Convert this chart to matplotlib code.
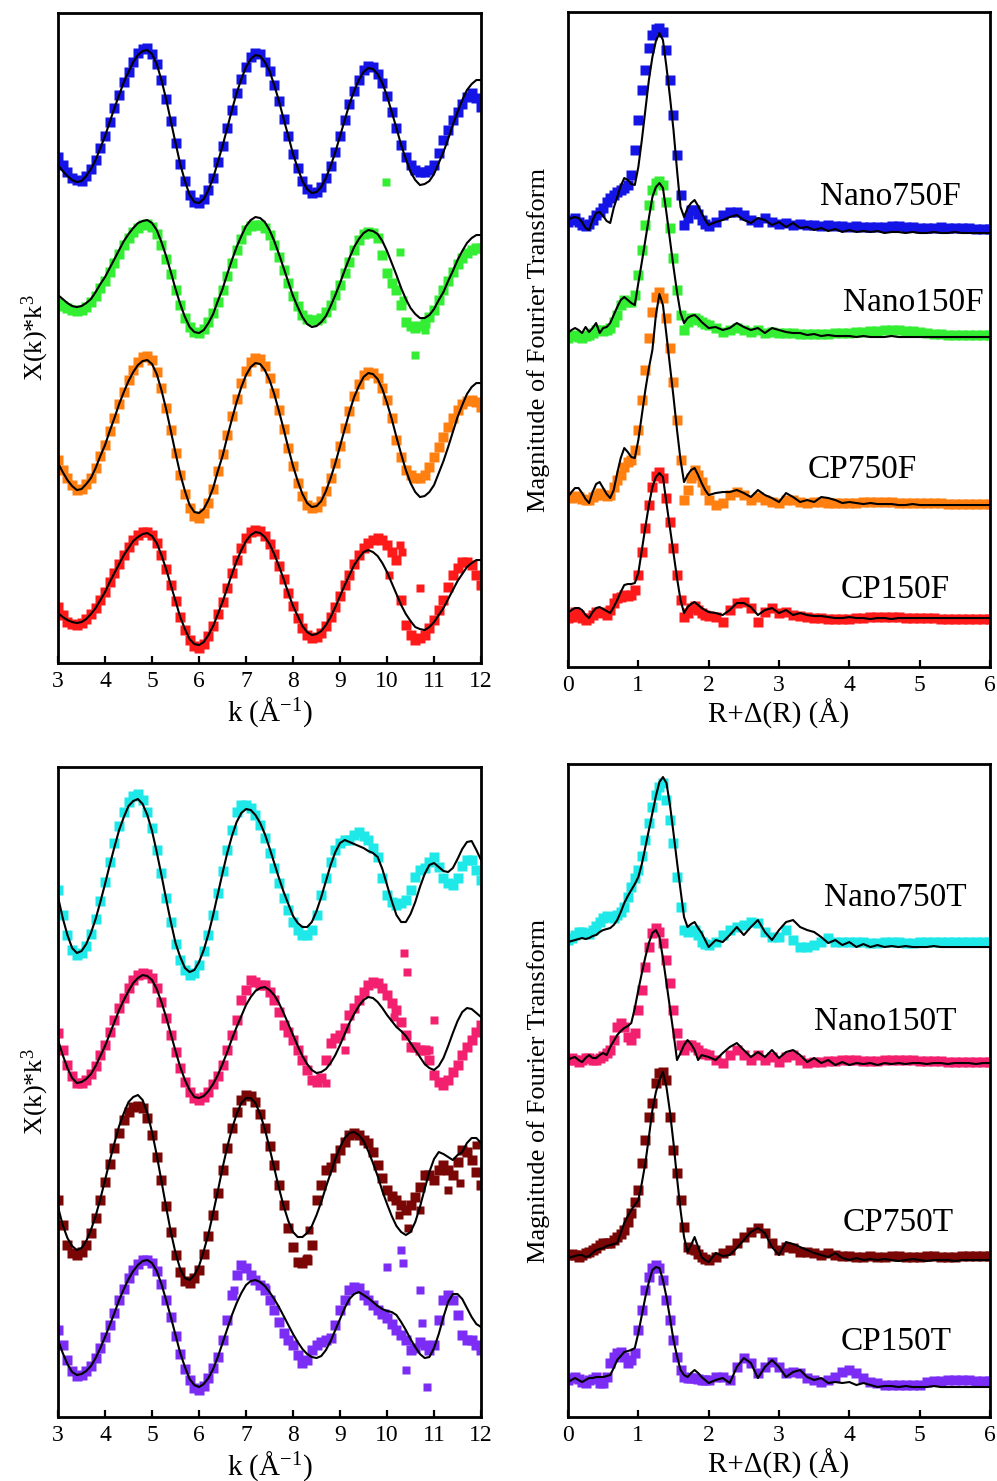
import numpy as np
import matplotlib.pyplot as plt

plt.rcParams['font.family'] = ['Liberation Serif', 'DejaVu Serif']
plt.rcParams['mathtext.fontset'] = 'custom'
plt.rcParams['mathtext.rm'] = 'Liberation Serif'
plt.rcParams['mathtext.it'] = 'Liberation Serif:italic'

# k grid (1/A) and R grid (A) the traces are read on
k_grid = [3.0, 3.1, 3.2, 3.3, 3.4, 3.5, 3.6, 3.7, 3.8, 3.9,
          4.0, 4.1, 4.2, 4.3, 4.4, 4.5, 4.6, 4.7, 4.8, 4.9,
          5.0, 5.1, 5.2, 5.3, 5.4, 5.5, 5.6, 5.7, 5.8, 5.9,
          6.0, 6.1, 6.2, 6.3, 6.4, 6.5, 6.6, 6.7, 6.8, 6.9,
          7.0, 7.1, 7.2, 7.3, 7.4, 7.5, 7.6, 7.7, 7.8, 7.9,
          8.0, 8.1, 8.2, 8.3, 8.4, 8.5, 8.6, 8.7, 8.8, 8.9,
          9.0, 9.1, 9.2, 9.3, 9.4, 9.5, 9.6, 9.7, 9.8, 9.9,
          10.0, 10.1, 10.2, 10.3, 10.4, 10.5, 10.6, 10.7, 10.8, 10.9,
          11.0, 11.1, 11.2, 11.3, 11.4, 11.5, 11.6, 11.7, 11.8, 11.9,
          12.0]
r_grid = [0.00, 0.05, 0.10, 0.15, 0.20, 0.25, 0.30, 0.35, 0.40, 0.45,
          0.50, 0.55, 0.60, 0.65, 0.70, 0.75, 0.80, 0.85, 0.90, 0.95,
          1.00, 1.05, 1.10, 1.15, 1.20, 1.25, 1.30, 1.35, 1.40, 1.45,
          1.50, 1.55, 1.60, 1.65, 1.70, 1.75, 1.80, 1.85, 1.90, 1.95,
          2.0, 2.1, 2.2, 2.3, 2.4, 2.5, 2.6, 2.7, 2.8, 2.9,
          3.0, 3.1, 3.2, 3.3, 3.4, 3.5, 3.6, 3.7, 3.8, 3.9,
          4.0, 4.1, 4.2, 4.3, 4.4, 4.5, 4.6, 4.7, 4.8, 4.9,
          5.0, 5.1, 5.2, 5.3, 5.4, 5.5, 5.6, 5.7, 5.8, 5.9, 6.0]

# ---- chi(k)*k^3, F samples (offset, arbitrary units) ----
nano750f_chi = [843, 835, 828, 822, 820, 819, 824, 831, 840, 852,
                864, 878, 892, 905, 918, 928, 938, 947, 951, 952,
                946, 936, 920, 901, 879, 857, 836, 819, 805, 798,
                797, 801, 810, 822, 838, 854, 872, 890, 907, 921,
                933, 943, 947, 946, 938, 929, 915, 899, 881, 864,
                846, 832, 819, 811, 807, 808, 813, 822, 834, 848,
                864, 880, 896, 909, 920, 930, 934, 933, 926, 917,
                904, 888, 872, 855, 843, 835, 830, 828, 828, 830,
                835, 847, 860, 870, 880, 888, 896, 903, 907, 902,
                893]
nano750f_chi_fit = [835, 829, 824, 820, 818, 819, 824, 831, 840, 852,
                    864, 878, 892, 905, 918, 928, 938, 945, 949, 950,
                    946, 936, 920, 901, 879, 857, 836, 819, 805, 798,
                    797, 801, 810, 822, 838, 854, 872, 890, 907, 921,
                    933, 941, 945, 944, 938, 929, 915, 899, 881, 864,
                    846, 832, 819, 811, 807, 808, 813, 822, 834, 848,
                    864, 880, 896, 909, 920, 928, 932, 931, 926, 917,
                    904, 888, 872, 855, 841, 828, 820, 815, 816, 819,
                    826, 837, 848, 861, 875, 888, 900, 910, 916, 920,
                    920]
nano150f_chi = [697, 694, 692, 690, 689, 690, 693, 698, 704, 712,
                719, 728, 737, 746, 755, 762, 768, 772, 775, 776,
                773, 766, 755, 741, 726, 710, 695, 682, 673, 668,
                667, 671, 678, 687, 698, 710, 724, 737, 750, 761,
                770, 774, 775, 775, 772, 765, 755, 743, 730, 717,
                704, 694, 685, 681, 680, 680, 682, 688, 695, 705,
                715, 727, 738, 750, 760, 766, 768, 767, 762, 745,
                727, 717, 710, 695, 678, 674, 672, 674, 677, 683,
                690, 700, 710, 719, 728, 736, 742, 747, 750, 752,
                752]
nano150f_chi_fit = [705, 701, 697, 694, 693, 694, 697, 701, 708, 716,
                    723, 732, 741, 750, 759, 766, 772, 777, 779, 780,
                    777, 770, 758, 744, 728, 711, 696, 683, 673, 668,
                    667, 670, 677, 686, 699, 711, 726, 740, 753, 764,
                    774, 780, 783, 782, 778, 770, 759, 746, 732, 718,
                    704, 693, 683, 676, 673, 674, 678, 684, 694, 705,
                    717, 730, 742, 753, 761, 767, 770, 769, 766, 759,
                    749, 737, 725, 712, 701, 692, 686, 682, 682, 685,
                    691, 700, 708, 719, 729, 740, 749, 757, 762, 765,
                    765]
nano150f_extra_k = [9.97, 10.27, 10.6, 10.1, 10.35, 10.8]
nano150f_extra = [818, 748, 645, 717, 700, 670]
cp750f_chi = [540, 530, 522, 515, 510, 511, 516, 522, 532, 544,
              555, 569, 582, 596, 608, 620, 630, 638, 643, 644,
              640, 628, 612, 592, 570, 547, 525, 506, 492, 484,
              482, 487, 497, 511, 529, 546, 565, 584, 601, 617,
              629, 638, 642, 641, 634, 622, 607, 590, 571, 552,
              534, 517, 504, 495, 492, 493, 499, 509, 522, 537,
              554, 572, 589, 604, 616, 625, 628, 627, 622, 612,
              600, 582, 560, 543, 530, 525, 522, 522, 525, 533,
              543, 553, 563, 573, 582, 590, 596, 599, 600, 598,
              593]
cp750f_chi_fit = [537, 528, 520, 514, 510, 511, 516, 522, 532, 544,
                  555, 569, 582, 596, 608, 619, 628, 635, 639, 640,
                  636, 626, 610, 591, 569, 547, 526, 509, 495, 488,
                  487, 491, 500, 512, 529, 544, 563, 581, 598, 613,
                  625, 633, 637, 636, 630, 620, 606, 589, 571, 552,
                  534, 519, 506, 497, 493, 494, 499, 509, 522, 537,
                  554, 571, 588, 603, 614, 623, 627, 626, 621, 611,
                  597, 581, 563, 546, 530, 517, 508, 503, 504, 508,
                  515, 527, 539, 553, 568, 583, 595, 606, 613, 617,
                  617]
cp150f_chi = [393, 385, 378, 376, 375, 377, 381, 386, 392, 400,
              408, 418, 427, 436, 445, 453, 460, 465, 468, 468,
              465, 457, 445, 431, 415, 399, 383, 370, 360, 354,
              352, 356, 364, 374, 386, 398, 412, 427, 440, 452,
              462, 468, 470, 469, 464, 456, 446, 434, 421, 407,
              394, 382, 372, 365, 362, 363, 367, 374, 383, 393,
              404, 415, 425, 436, 445, 452, 457, 460, 462, 460,
              455, 448, 440, 400, 375, 365, 360, 362, 365, 372,
              380, 390, 400, 413, 425, 432, 438, 438, 435, 425,
              415]
cp150f_chi_fit = [387, 383, 380, 378, 377, 378, 381, 386, 392, 400,
                  408, 418, 427, 436, 445, 452, 459, 463, 466, 467,
                  464, 457, 445, 431, 415, 399, 383, 371, 361, 356,
                  355, 358, 365, 374, 386, 398, 412, 426, 439, 450,
                  459, 465, 468, 467, 463, 456, 446, 434, 421, 407,
                  394, 384, 374, 368, 365, 366, 369, 375, 383, 393,
                  404, 415, 425, 435, 442, 448, 450, 448, 444, 437,
                  428, 417, 406, 395, 386, 379, 373, 371, 370, 373,
                  378, 385, 392, 401, 410, 419, 426, 433, 437, 440,
                  440]
cp150f_extra_k = [10.27, 10.32, 10.7, 9.9, 10.05]
cp150f_extra = [455, 448, 412, 460, 425]

# ---- chi(k)*k^3, T samples ----
nano750t_chi = [610, 585, 565, 550, 545, 547, 554, 566, 581, 599,
                618, 638, 657, 674, 688, 698, 704, 706, 700, 688,
                672, 650, 627, 602, 578, 556, 540, 530, 525, 527,
                535, 549, 565, 585, 607, 629, 650, 670, 688, 695,
                695, 692, 685, 675, 662, 647, 632, 617, 602, 590,
                578, 570, 565, 565, 570, 585, 605, 622, 638, 650,
                657, 660, 660, 665, 668, 664, 660, 652, 643, 622,
                605, 598, 595, 597, 600, 610, 623, 630, 632, 638,
                643, 633, 622, 617, 615, 622, 634, 640, 640, 630,
                620]
nano750t_chi_fit = [603, 582, 565, 552, 547, 549, 556, 567, 581, 598,
                    616, 635, 653, 670, 683, 694, 699, 701, 696, 685,
                    669, 648, 625, 601, 578, 557, 543, 532, 528, 530,
                    538, 550, 566, 585, 606, 627, 647, 664, 678, 687,
                    691, 690, 685, 677, 666, 652, 637, 622, 608, 596,
                    584, 577, 573, 573, 578, 589, 603, 619, 635, 648,
                    657, 660, 658, 656, 654, 652, 649, 647, 643, 631,
                    615, 599, 585, 578, 578, 586, 598, 613, 626, 635,
                    637, 633, 629, 628, 632, 641, 651, 658, 659, 650,
                    640]
nano150t_chi = [467, 450, 435, 424, 417, 417, 420, 426, 434, 445,
                455, 468, 480, 492, 502, 512, 520, 525, 527, 526,
                522, 512, 498, 482, 465, 448, 432, 418, 408, 402,
                400, 403, 408, 416, 424, 435, 450, 465, 480, 500,
                510, 520, 518, 515, 515, 508, 500, 488, 475, 468,
                460, 450, 440, 430, 420, 418, 422, 440, 457, 462,
                465, 472, 485, 492, 500, 508, 515, 518, 517, 512,
                505, 497, 490, 478, 465, 453, 453, 450, 450, 440,
                425, 418, 415, 420, 428, 435, 445, 453, 460, 468,
                475]
nano150t_chi_fit = [460, 445, 432, 422, 417, 418, 421, 426, 434, 444,
                    454, 466, 478, 490, 500, 509, 517, 522, 525, 524,
                    520, 511, 498, 483, 466, 449, 433, 420, 410, 403,
                    402, 404, 409, 416, 425, 436, 448, 461, 473, 484,
                    495, 503, 509, 512, 513, 510, 505, 497, 487, 476,
                    465, 454, 444, 436, 430, 427, 428, 431, 437, 445,
                    455, 466, 477, 486, 494, 500, 503, 502, 498, 492,
                    485, 479, 473, 469, 464, 457, 450, 443, 436, 432,
                    430, 434, 442, 454, 467, 479, 488, 492, 491, 487,
                    483]
nano150t_extra_k = [10.37, 10.42, 7.1, 8.7, 9.1, 10.15, 11.0, 10.9, 11.7]
nano150t_extra = [547, 528, 520, 417, 450, 483, 480, 450, 453]
cp750t_chi = [300, 275, 255, 247, 245, 248, 255, 267, 282, 300,
              318, 336, 352, 367, 380, 388, 393, 394, 392, 382,
              365, 343, 320, 294, 268, 245, 228, 219, 217, 222,
              230, 246, 264, 285, 307, 330, 352, 372, 388, 400,
              405, 404, 398, 386, 372, 354, 335, 315, 295, 272,
              253, 238, 237, 240, 255, 300, 315, 330, 333, 342,
              350, 358, 365, 367, 365, 360, 357, 348, 335, 322,
              310, 304, 300, 295, 290, 295, 303, 313, 325, 325,
              320, 330, 335, 330, 325, 338, 350, 348, 340, 328,
              315]
cp750t_chi_fit = [293, 275, 262, 254, 250, 252, 259, 270, 284, 301,
                  320, 339, 357, 374, 387, 398, 403, 405, 400, 387,
                  368, 345, 319, 293, 268, 247, 231, 222, 220, 225,
                  234, 249, 266, 287, 309, 332, 353, 371, 386, 397,
                  402, 402, 397, 386, 371, 352, 332, 312, 294, 279,
                  268, 263, 263, 267, 274, 285, 298, 313, 327, 341,
                  353, 362, 367, 368, 365, 359, 349, 337, 324, 309,
                  296, 284, 274, 268, 265, 268, 278, 293, 311, 328,
                  341, 348, 346, 343, 340, 345, 348, 357, 362, 362,
                  357]
cp750t_extra_k = [10.45, 10.7, 11.3, 11.55, 8.3, 8.35, 10.25, 11.9]
cp750t_extra = [272, 290, 310, 317, 242, 270, 285, 355]
cp150t_chi = [170, 155, 140, 129, 124, 125, 129, 134, 142, 152,
              163, 175, 187, 200, 211, 222, 230, 236, 240, 240,
              237, 229, 216, 200, 183, 164, 146, 131, 120, 112,
              110, 114, 122, 132, 143, 160, 180, 205, 225, 235,
              232, 225, 220, 215, 210, 200, 190, 178, 167, 160,
              155, 145, 137, 140, 150, 155, 158, 160, 162, 175,
              190, 200, 210, 213, 212, 205, 200, 195, 190, 186,
              182, 176, 170, 165, 160, 150, 152, 158, 155, 150,
              155, 180, 200, 205, 200, 185, 165, 160, 160, 155,
              150]
cp150t_chi_fit = [160, 147, 136, 128, 125, 126, 129, 134, 142, 152,
                  163, 175, 187, 200, 211, 221, 229, 235, 239, 240,
                  237, 229, 216, 200, 183, 165, 147, 133, 121, 115,
                  113, 116, 122, 131, 143, 157, 171, 185, 197, 207,
                  215, 219, 220, 218, 214, 208, 201, 193, 184, 175,
                  166, 158, 151, 146, 143, 142, 144, 150, 159, 170,
                  181, 192, 201, 206, 208, 205, 202, 198, 194, 191,
                  189, 188, 185, 178, 170, 161, 153, 146, 142, 143,
                  152, 166, 183, 198, 206, 206, 201, 192, 183, 176,
                  173]
cp150t_extra_k = [10.0, 10.3, 10.35, 10.7, 10.75, 10.4, 10.85, 6.75, 7.4, 9.95]
cp150t_extra = [233, 250, 237, 210, 177, 130, 113, 210, 213, 187]

# ---- |FT|, F samples ----
nano750f_ft = [778, 780, 782, 778, 775, 774, 776, 780, 785, 788, 792, 798, 802, 805, 808, 810, 812, 815, 825, 850,
               880, 910, 930, 952, 965, 971, 972, 968, 950, 920, 885, 845, 805, 775, 782, 790, 790, 786, 780, 776,
               774, 778, 785, 788, 788, 785, 780, 778, 782, 778, 776, 777, 775, 776, 775, 775, 774, 775, 774, 774,
               773, 774, 773, 773, 773, 773, 774, 774, 773, 773, 772, 772, 772, 773, 772, 772, 772, 772, 771, 771, 771]
nano750f_ft_fit = [780, 782, 783, 782, 778, 772, 770, 780, 787, 788, 784, 779, 777, 792, 803, 814, 822, 820, 816, 815,
                   833, 860, 890, 920, 943, 959, 967, 960, 933, 903, 870, 830, 793, 783, 792, 797, 800, 794, 787, 780,
                   775, 778, 780, 783, 785, 780, 777, 782, 780, 775, 778, 773, 777, 772, 773, 770, 772, 769, 771, 768,
                   770, 768, 769, 768, 769, 767, 768, 768, 767, 768, 767, 767, 768, 767, 767, 768, 767, 767, 767, 767, 767]
nano150f_ft = [662, 664, 665, 663, 662, 664, 665, 667, 670, 670, 669, 670, 672, 678, 685, 695, 700, 698, 698, 705,
               725, 750, 775, 795, 810, 817, 819, 815, 798, 772, 742, 710, 685, 670, 678, 682, 682, 680, 678, 676,
               675, 672, 668, 670, 672, 670, 668, 670, 667, 668, 667, 667, 667, 666, 666, 666, 666, 666, 667, 667,
               667, 668, 668, 669, 669, 670, 670, 670, 669, 669, 668, 667, 666, 666, 665, 665, 665, 665, 665, 665, 665]
nano150f_ft_fit = [667, 670, 672, 670, 667, 673, 668, 672, 677, 667, 672, 673, 677, 685, 693, 700, 703, 700, 697, 695,
                   717, 738, 760, 782, 803, 813, 817, 812, 787, 760, 733, 708, 687, 677, 682, 684, 685, 682, 678, 675,
                   672, 673, 670, 672, 677, 673, 670, 672, 667, 672, 670, 668, 667, 667, 665, 666, 664, 665, 664, 664,
                   664, 663, 664, 663, 663, 663, 664, 663, 663, 663, 663, 663, 663, 663, 663, 663, 663, 663, 663, 663, 663]
cp750f_ft = [503, 502, 504, 503, 501, 500, 500, 503, 505, 507, 505, 504, 505, 513, 520, 525, 533, 538, 540, 550,
             570, 600, 630, 662, 688, 703, 708, 702, 682, 652, 618, 580, 540, 500, 510, 522, 530, 525, 518, 510,
             500, 495, 497, 505, 508, 505, 500, 503, 500, 498, 497, 500, 500, 498, 497, 498, 498, 497, 497, 497,
             497, 497, 498, 498, 498, 498, 498, 497, 497, 497, 497, 497, 497, 497, 496, 496, 496, 496, 496, 496, 496]
cp750f_ft_fit = [503, 508, 512, 512, 507, 501, 497, 508, 516, 518, 512, 506, 502, 510, 527, 542, 552, 548, 543, 542,
                 560, 585, 610, 632, 650, 685, 706, 695, 665, 634, 603, 570, 540, 518, 525, 530, 532, 525, 517, 510,
                 505, 507, 508, 508, 510, 507, 503, 510, 505, 502, 498, 507, 503, 498, 500, 498, 503, 502, 500, 497,
                 498, 497, 496, 497, 496, 496, 496, 495, 495, 496, 495, 495, 495, 495, 495, 495, 495, 495, 495, 495, 495]
cp150f_ft = [382, 383, 388, 385, 382, 380, 382, 385, 388, 388, 387, 385, 390, 397, 402, 403, 405, 404, 405, 410,
             425, 448, 472, 495, 513, 524, 528, 522, 502, 478, 452, 425, 400, 383, 387, 392, 394, 390, 387, 385,
             384, 383, 378, 390, 397, 398, 392, 378, 388, 392, 387, 388, 385, 384, 383, 382, 382, 381, 381, 381,
             381, 382, 382, 383, 383, 383, 383, 383, 382, 382, 382, 382, 382, 381, 381, 381, 381, 381, 381, 381, 381]
cp150f_ft_fit = [387, 390, 392, 392, 390, 385, 382, 388, 392, 393, 391, 389, 387, 393, 400, 408, 415, 416, 416, 417,
                 427, 450, 473, 495, 513, 523, 527, 523, 497, 472, 447, 422, 400, 387, 393, 396, 398, 395, 392, 390,
                 388, 387, 385, 390, 397, 397, 393, 385, 390, 392, 387, 390, 385, 387, 385, 384, 384, 383, 382, 382,
                 383, 382, 382, 381, 382, 382, 381, 382, 382, 382, 382, 382, 382, 382, 382, 382, 382, 382, 382, 382, 382]

# ---- |FT|, T samples ----
nano750t_ft = [560, 562, 565, 568, 568, 567, 566, 570, 574, 578, 582, 584, 583, 582, 585, 588, 593, 603, 613, 622,
               630, 644, 660, 677, 693, 705, 713, 717, 700, 680, 657, 623, 593, 570, 568, 569, 570, 565, 558, 556,
               555, 558, 565, 570, 573, 575, 578, 577, 568, 563, 563, 570, 560, 553, 553, 555, 558, 562, 558, 558,
               558, 558, 558, 557, 557, 558, 558, 558, 557, 557, 558, 558, 558, 558, 558, 558, 558, 558, 558, 558, 558]
nano750t_ft_fit = [558, 559, 560, 561, 562, 561, 562, 564, 565, 568, 570, 571, 572, 575, 580, 588, 597, 604, 610, 616,
                   623, 636, 653, 670, 687, 704, 718, 723, 717, 695, 667, 638, 610, 583, 573, 576, 578, 572, 567, 560,
                   553, 560, 558, 565, 573, 565, 573, 580, 568, 560, 570, 578, 580, 573, 570, 568, 563, 557, 560, 555,
                   558, 553, 556, 553, 555, 553, 554, 553, 554, 553, 553, 553, 554, 553, 553, 553, 553, 553, 553, 553, 553]
nano150t_ft = [440, 442, 440, 438, 440, 442, 442, 440, 440, 442, 444, 447, 450, 460, 473, 477, 473, 463, 460, 467,
               490, 510, 533, 553, 567, 572, 568, 557, 540, 517, 490, 467, 455, 450, 455, 455, 453, 450, 447, 446,
               445, 440, 437, 445, 450, 445, 440, 445, 440, 443, 438, 443, 445, 440, 437, 438, 438, 439, 439, 440,
               440, 440, 439, 439, 439, 440, 440, 440, 440, 440, 439, 439, 439, 439, 438, 438, 438, 438, 438, 438, 438]
nano150t_ft_fit = [440, 442, 443, 440, 438, 442, 445, 442, 442, 445, 447, 445, 453, 459, 465, 469, 472, 474, 477, 492,
                   510, 527, 543, 557, 567, 570, 563, 542, 517, 492, 467, 440, 447, 455, 460, 456, 450, 440, 445, 444,
                   443, 440, 447, 453, 457, 450, 443, 448, 443, 450, 442, 448, 450, 445, 438, 442, 437, 440, 435, 438,
                   435, 437, 436, 437, 435, 437, 436, 437, 436, 437, 437, 436, 437, 437, 436, 437, 437, 437, 436, 437, 437]
cp750t_ft = [245, 246, 245, 243, 245, 247, 248, 250, 252, 255, 257, 257, 257, 260, 263, 266, 270, 278, 287, 298,
             310, 337, 360, 383, 397, 417, 427, 428, 420, 383, 350, 327, 300, 273, 253, 251, 250, 246, 243, 241,
             240, 243, 247, 250, 257, 263, 268, 272, 267, 257, 250, 253, 252, 248, 248, 247, 245, 247, 245, 244,
             244, 243, 243, 244, 243, 243, 244, 244, 243, 243, 243, 244, 244, 243, 243, 243, 244, 244, 244, 244, 244]
cp750t_ft_fit = [242, 243, 244, 245, 245, 243, 244, 247, 250, 251, 252, 254, 255, 256, 257, 267, 277, 284, 290, 295,
                 300, 317, 337, 363, 390, 408, 420, 428, 413, 388, 357, 322, 290, 263, 248, 255, 263, 253, 243, 240,
                 238, 247, 244, 245, 252, 260, 268, 272, 267, 253, 245, 258, 256, 253, 250, 247, 245, 243, 247, 242,
                 240, 242, 240, 241, 240, 241, 240, 239, 240, 241, 240, 239, 240, 240, 240, 239, 240, 240, 240, 240, 240]
cp150t_ft = [120, 122, 123, 121, 118, 117, 120, 121, 123, 117, 117, 123, 137, 143, 147, 148, 143, 137, 140, 147,
             170, 190, 210, 223, 232, 235, 232, 220, 200, 180, 160, 143, 130, 123, 122, 122, 122, 121, 120, 120,
             120, 123, 123, 120, 133, 142, 137, 127, 133, 138, 133, 127, 128, 127, 122, 120, 118, 120, 123, 128,
             130, 127, 122, 118, 117, 115, 115, 115, 115, 115, 115, 118, 119, 119, 120, 120, 120, 120, 119, 119, 119]
cp150t_ft_fit = [118, 120, 122, 120, 118, 120, 122, 122, 123, 123, 123, 124, 125, 132, 140, 144, 148, 149, 150, 152,
                 167, 185, 203, 218, 230, 233, 232, 220, 203, 182, 160, 144, 130, 125, 123, 127, 130, 127, 123, 120,
                 117, 120, 122, 117, 133, 142, 137, 122, 133, 140, 133, 123, 128, 130, 123, 120, 122, 117, 118, 117,
                 118, 115, 117, 115, 113, 114, 114, 113, 114, 113, 113, 113, 114, 113, 113, 113, 113, 113, 113, 113, 113]

names_f = ['Nano750F', 'Nano150F', 'CP750F', 'CP150F']
names_t = ['Nano750T', 'Nano150T', 'CP750T', 'CP150T']
colors_f = ['#1414e6', '#33ee33', '#ff8010', '#ff1a1a']
colors_t = ['#1ee8e8', '#f2206e', '#7a0606', '#7b2cf5']

fig = plt.figure(figsize=(9.97, 14.81), dpi=100)
ax_kf = fig.add_axes([0.0582, 0.5523, 0.4243, 0.4389])
ax_rf = fig.add_axes([0.5697, 0.5496, 0.4233, 0.4423])
ax_kt = fig.add_axes([0.0582, 0.0432, 0.4243, 0.4389])
ax_rt = fig.add_axes([0.5697, 0.0432, 0.4233, 0.4409])


def style(ax, xlim, ticks, ylim, xlabel, ylabel, ylpad):
    ax.set_xlim(*xlim)
    ax.set_ylim(*ylim)
    ax.set_xticks(ticks)
    ax.set_yticks([])
    ax.tick_params(axis='x', direction='in', length=5, width=1.6, labelsize=17, pad=6)
    for s in ax.spines.values():
        s.set_linewidth(2.0)
    ax.set_xlabel(xlabel, fontsize=21, labelpad=2)
    ax.set_ylabel(ylabel, fontsize=19, labelpad=ylpad)


def draw_k(ax, traces, colors):
    for (dat, fit, ek, ev), c in zip(traces, colors):
        ax.plot(k_grid, dat, 's', color=c, ms=7, mec='none')
        if ek:
            ax.plot(ek, ev, 's', color=c, ms=6, mec='none')
        ax.plot(k_grid, fit, '-', color='black', lw=1.5)


def draw_r(ax, traces, colors, names, label_pos):
    for (dat, fit), c, n, (lx, ly) in zip(traces, colors, names, label_pos):
        ax.plot(r_grid, dat, 's', color=c, ms=7, mec='none')
        ax.plot(r_grid, fit, '-', color='black', lw=1.5)
        ax.text(lx, ly, n, fontsize=24, ha='center', va='center')


draw_k(ax_kf, [(nano750f_chi, nano750f_chi_fit, [], []),
               (nano150f_chi, nano150f_chi_fit, nano150f_extra_k, nano150f_extra),
               (cp750f_chi, cp750f_chi_fit, [], []),
               (cp150f_chi, cp150f_chi_fit, cp150f_extra_k, cp150f_extra)], colors_f)
draw_k(ax_kt, [(nano750t_chi, nano750t_chi_fit, [], []),
               (nano150t_chi, nano150t_chi_fit, nano150t_extra_k, nano150t_extra),
               (cp750t_chi, cp750t_chi_fit, cp750t_extra_k, cp750t_extra),
               (cp150t_chi, cp150t_chi_fit, cp150t_extra_k, cp150t_extra)], colors_t)
draw_r(ax_rf, [(nano750f_ft, nano750f_ft_fit), (nano150f_ft, nano150f_ft_fit),
               (cp750f_ft, cp750f_ft_fit), (cp150f_ft, cp150f_ft_fit)], colors_f, names_f,
       [(4.59, 803), (4.91, 697), (4.18, 530), (4.65, 410)])
draw_r(ax_rt, [(nano750t_ft, nano750t_ft_fit), (nano150t_ft, nano150t_ft_fit),
               (cp750t_ft, cp750t_ft_fit), (cp150t_ft, cp150t_ft_fit)], colors_t, names_t,
       [(4.65, 602), (4.51, 478), (4.69, 277), (4.66, 158)])

klab = r'k (Å$^{\mathregular{-1}}$)'
rlab = 'R+\u0394(R) (Å)'
chilab = r'X(k)*k$^{\mathregular{3}}$'
ftlab = 'Magnitude of Fourier Transform'
style(ax_kf, (3, 12), range(3, 13), (337, 987), klab, chilab, 5)
style(ax_kt, (3, 12), range(3, 13), (83, 733), klab, chilab, 5)
style(ax_rf, (0, 6), range(0, 7), (333, 988), rlab, ftlab, 13)
style(ax_rt, (0, 6), range(0, 7), (83, 736), rlab, ftlab, 13)

fig.savefig('out.png', dpi=100)
